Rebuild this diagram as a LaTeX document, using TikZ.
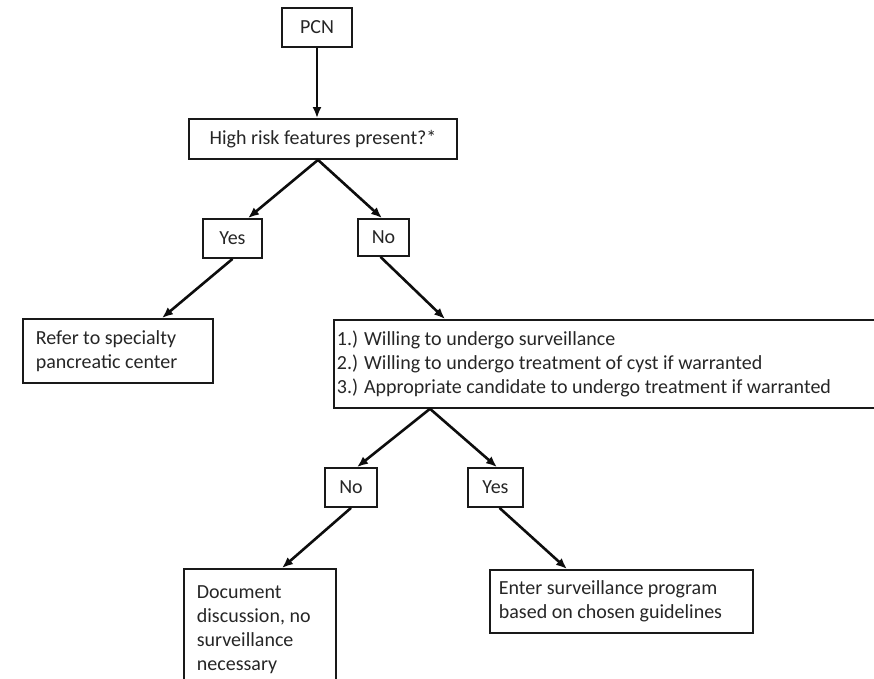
\documentclass[tikz,border=0pt]{standalone}
\usepackage{fontspec}
\setmainfont{Carlito}
\usepackage{tikz}
\usetikzlibrary{arrows.meta}
\usepackage{xcolor}

\begin{document}
\begin{tikzpicture}[x=1pt,y=-1pt,
			box/.style={draw=black!90,line width=1.8pt,text=black!85,inner sep=0pt,font=\fontsize{20}{24}\selectfont},
			textbox/.style={box,anchor=north west,align=flush left},
			flow/.style={-{Latex[length=11pt,width=9pt]},line width=2.6pt,draw=black!95}]
			  % page frame, boxes run past the right and lower edge
			  \clip (0,0) rectangle (874,678);
			  \node[box,minimum width=70pt,minimum height=39pt] (pcn) at (317,27.5) {PCN};
			  \node[box,minimum width=268pt,minimum height=40pt] (risk) at (323,139) {High risk features present?*};
			  \node[box,minimum width=59pt,minimum height=39pt] (riskyes) at (232.5,238.5) {Yes};
			  \node[box,minimum width=51pt,minimum height=37pt] (riskno) at (383.5,237.5) {No};
			  \node[textbox,text width=164pt,inner xsep=13pt,minimum height=64pt] (refer) at (22,318)
			    {Refer to specialty\\pancreatic center};
			  \node[textbox,text width=600pt,inner xsep=3pt,minimum height=88pt] (criteria) at (333,319)
			    {1.) Willing to undergo surveillance\\
			     2.) Willing to undergo treatment of cyst if warranted\\
			     3.) Appropriate candidate to undergo treatment if warranted};
			  \node[box,minimum width=52pt,minimum height=39pt] (critno) at (351,487.5) {No};
			  \node[box,minimum width=55pt,minimum height=39pt] (crityes) at (495.5,487.5) {Yes};
			  \node[textbox,text width=126pt,inner xsep=13pt,minimum height=121pt] (document) at (183,568)
			    {Document\\discussion, no\\surveillance\\necessary};
			  \node[textbox,text width=245pt,inner xsep=9pt,minimum height=63pt] (enter) at (489,569)
			    {Enter surveillance program\\based on chosen guidelines};
			  % split points
			  \coordinate (risksplit) at ([xshift=-5pt]risk.south);
			  \coordinate (critsplit) at ([xshift=97pt]criteria.south west);
			  \draw[flow] (pcn.south) -- (pcn.south |- risk.north);
			  \draw[flow] (risksplit) -- ([xshift=15.5pt]riskyes.north);
			  \draw[flow] (risksplit) -- ([xshift=-1.5pt]riskno.north);
			  \draw[flow] (riskyes.south) -- ([xshift=140pt]refer.north west);
			  \draw[flow] ([xshift=-3pt]riskno.south) -- ([xshift=112pt]criteria.north west);
			  \draw[flow] (critsplit) -- ([xshift=6pt]critno.north);
			  \draw[flow] (critsplit) -- ([xshift=1.5pt]crityes.north);
			  \draw[flow] (critno.south) -- ([xshift=99pt]document.north west);
			  \draw[flow] ([xshift=4pt]crityes.south) -- ([xshift=78pt]enter.north west);
%			  \draw[flow] (enter.south) -- (enter.south |- document.south);
\end{tikzpicture}
\end{document}
